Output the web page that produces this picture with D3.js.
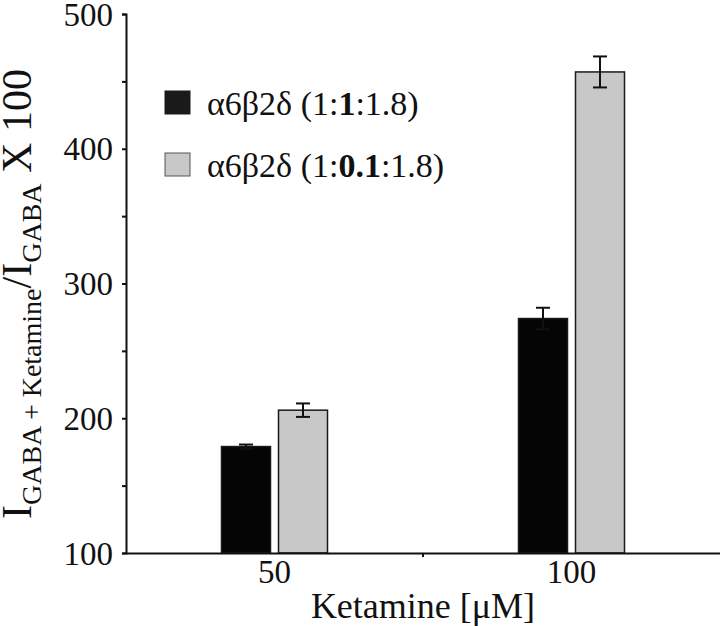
<!DOCTYPE html>
<html>
<head>
<meta charset="utf-8">
<script src="https://cdn.jsdelivr.net/npm/d3@7"></script>
<style>
  body { margin: 0; background: #fff; }
  svg text { font-family: "Liberation Serif", "Times New Roman", Times, serif; fill: #111; }
</style>
</head>
<body>
<div id="chart"></div>
<script>
// chart values
var doses = ["50", "100"];
var seriesNames = ["α6β2δ (1:1:1.8)", "α6β2δ (1:0.1:1.8)"];
var seriesColors = ["#050505", "#c8c8c8"];
var meansRatio1 = [179, 274];
var errsRatio1 = [1.5, 8];
var meansRatio01 = [206, 457];
var errsRatio01 = [5, 11.5];
var yTicks = [100, 200, 300, 400, 500];
var yMinorTicks = [150, 250, 350, 450];

var series = [
    { name: seriesNames[0], color: seriesColors[0], means: meansRatio1, errs: errsRatio1 },
    { name: seriesNames[1], color: seriesColors[1], means: meansRatio01, errs: errsRatio01 }
];

var svg = d3.select("#chart").append("svg").attr("width", 720).attr("height", 626);

var x = d3.scaleBand().domain(doses).range([126, 720]);
var y = d3.scaleLinear().domain([100, 500]).range([553, 14]);

var barW = 49, gap = 8;
function barX(i, s) {
    var c = x(doses[i]) + x.bandwidth() / 2;
    return s === 0 ? c - gap / 2 - barW : c + gap / 2;
}

// bars
series.forEach(function(s, si) {
    var g = svg.append("g");
    g.selectAll("rect")
        .data(s.means)
        .enter().append("rect")
        .attr("x", function(d, i) { return barX(i, si); })
        .attr("y", function(d) { return y(d); })
        .attr("width", barW)
        .attr("height", function(d) { return y(100) - y(d); })
        .attr("fill", s.color)
        .attr("stroke", "#1a1a1a")
        .attr("stroke-width", 1.5);

    // error bars
    var eb = g.selectAll("g.err")
        .data(s.means)
        .enter().append("g").attr("class", "err")
        .attr("stroke", "#111").attr("stroke-width", 2);
    eb.append("line")
        .attr("x1", function(d, i) { return barX(i, si) + barW / 2; })
        .attr("x2", function(d, i) { return barX(i, si) + barW / 2; })
        .attr("y1", function(d, i) { return y(d + s.errs[i]); })
        .attr("y2", function(d, i) { return y(d - s.errs[i]); });
    eb.append("line")
        .attr("x1", function(d, i) { return barX(i, si) + barW / 2 - 7; })
        .attr("x2", function(d, i) { return barX(i, si) + barW / 2 + 7; })
        .attr("y1", function(d, i) { return y(d + s.errs[i]); })
        .attr("y2", function(d, i) { return y(d + s.errs[i]); });
    eb.append("line")
        .attr("x1", function(d, i) { return barX(i, si) + barW / 2 - 7; })
        .attr("x2", function(d, i) { return barX(i, si) + barW / 2 + 7; })
        .attr("y1", function(d, i) { return y(d - s.errs[i]); })
        .attr("y2", function(d, i) { return y(d - s.errs[i]); });
});

// y axis
var yAxis = svg.append("g")
    .attr("transform", "translate(126,0)")
    .call(d3.axisLeft(y).tickValues(yTicks).tickSize(4).tickPadding(9));
svg.append("g")
    .attr("transform", "translate(126,0)")
    .call(d3.axisLeft(y).tickValues(yMinorTicks).tickSize(4).tickFormat(""))
    .select(".domain").remove();

// x axis
var xAxis = svg.append("g")
    .attr("transform", "translate(0,553)")
    .call(d3.axisBottom(x).tickSize(0).tickPadding(7));
xAxis.append("line")
    .attr("x1", x("100")).attr("x2", x("100"))
    .attr("y1", 0).attr("y2", 4)
    .attr("stroke", "#111").attr("stroke-width", 2);

svg.selectAll(".domain").attr("stroke", "#111").attr("stroke-width", 2);
svg.selectAll(".tick line").attr("stroke", "#111").attr("stroke-width", 2);
svg.selectAll(".tick text")
    .style("font-family", '"Liberation Serif", "Times New Roman", Times, serif')
    .style("font-size", "33px").attr("fill", "#111");
yAxis.selectAll(".tick text").attr("dy", "0.34em");
xAxis.selectAll(".tick text").attr("dy", "0.71em");

// x title
svg.append("text")
    .attr("x", 423).attr("y", 618)
    .attr("text-anchor", "middle")
    .style("font-size", "36px")
    .text("Ketamine [μM]");

// y title
var yt = svg.append("text")
    .attr("transform", "translate(31,294) rotate(-90)")
    .attr("text-anchor", "middle")
    .style("font-size", "42px");
yt.append("tspan").text("I");
yt.append("tspan").attr("dy", 10).style("font-size", "28px").text("GABA + Ketamine");
yt.append("tspan").attr("dy", -10).text("/I");
yt.append("tspan").attr("dy", 10).style("font-size", "28px").text("GABA");
yt.append("tspan").attr("dy", -10).text(" X 100");

// legend
var legend = svg.append("g");
series.forEach(function(s, i) {
    var ly = 91 + i * 62;
    legend.append("rect")
        .attr("x", 165).attr("y", ly)
        .attr("width", 25).attr("height", 23)
        .attr("fill", i === 0 ? "#1a1a1a" : s.color)
        .attr("stroke", i === 0 ? "#1a1a1a" : "#555")
        .attr("stroke-width", 1);
    var parts = s.name.match(/^(.*\(1:)([^:]+)(:.*)$/);
    var t = legend.append("text")
        .attr("x", 207).attr("y", ly + 24)
        .style("font-size", "34px");
    t.append("tspan").text(parts[1]);
    t.append("tspan").style("font-weight", "bold").text(parts[2]);
    t.append("tspan").text(parts[3]);
});
</script>
</body>
</html>
